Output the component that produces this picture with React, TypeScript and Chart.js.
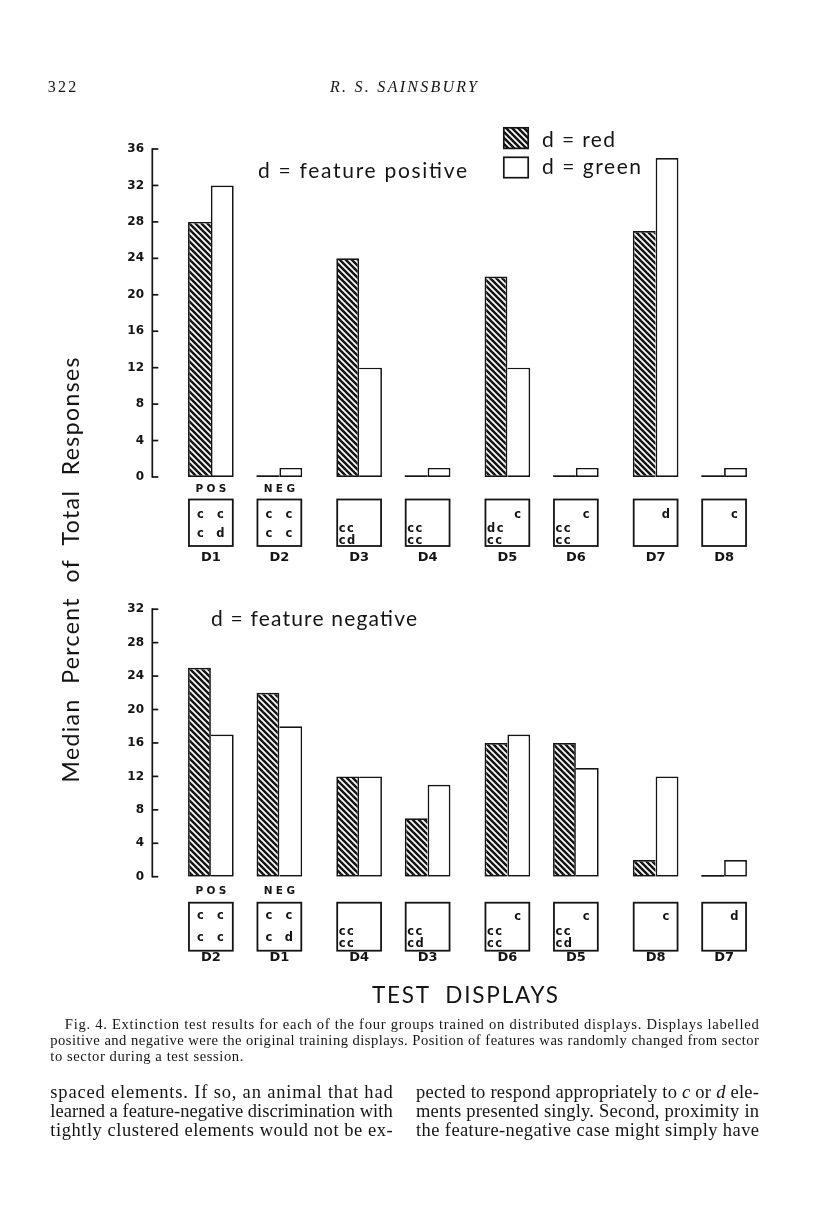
import React, { useEffect, useRef } from "react";
import { Chart, registerables } from "chart.js";

Chart.register(...registerables);

// ---------- data ----------
const seriesLabels = ["d = red", "d = green"];
const trainingLabels = ["POS", "NEG"];
const yStep = 4;

const topDisplays = ["D1", "D2", "D3", "D4", "D5", "D6", "D7", "D8"];
const topRed = [28, 0, 24, 0, 22, 0, 27, 0];
const topGreen = [32, 1, 12, 1, 12, 1, 35, 1];
const topYMax = 36;
const topTitle = "d = feature positive";

const bottomDisplays = ["D2", "D1", "D4", "D3", "D6", "D5", "D8", "D7"];
const bottomRed = [25, 22, 12, 7, 16, 16, 2, 0];
const bottomGreen = [17, 18, 12, 11, 17, 13, 12, 2];
const bottomYMax = 32;
const bottomTitle = "d = feature negative";

type Disp = { grid?: string[]; cluster?: string[]; corner?: string };
const topContents: Disp[] = [
  { grid: ["c", "c", "c", "d"] },
  { grid: ["c", "c", "c", "c"] },
  { cluster: ["cc", "cd"] },
  { cluster: ["cc", "cc"] },
  { corner: "c", cluster: ["dc", "cc"] },
  { corner: "c", cluster: ["cc", "cc"] },
  { corner: "d" },
  { corner: "c" },
];
const bottomContents: Disp[] = [
  { grid: ["c", "c", "c", "c"] },
  { grid: ["c", "c", "c", "d"] },
  { cluster: ["cc", "cc"] },
  { cluster: ["cc", "cd"] },
  { corner: "c", cluster: ["cc", "cc"] },
  { corner: "c", cluster: ["cc", "cd"] },
  { corner: "c" },
  { corner: "d" },
];

const yAxisTitle = "Median  Percent  of  Total  Responses";
const xAxisTitle = "TEST  DISPLAYS";

// ---------- styling ----------
const INK = "#141414";
const BW = 1.7;

function makeHatch(): CanvasPattern | string {
  const s = 6;
  const c = document.createElement("canvas");
  c.width = s;
  c.height = s;
  const g = c.getContext("2d");
  if (!g) return INK;
  g.fillStyle = "#ffffff";
  g.fillRect(0, 0, s, s);
  g.strokeStyle = INK;
  g.lineWidth = 2.5;
  for (const k of [-s, 0, s]) {
    g.beginPath();
    g.moveTo(k - 1, -1);
    g.lineTo(k + s + 1, s + 1);
    g.stroke();
  }
  return g.createPattern(c, "repeat") || INK;
}

function buildDatasets(red: number[], green: number[], hatch: any) {
  const pick = (arr: number[], slot: number) => arr.filter((_, i) => i % 2 === slot);
  const ds: any[] = [];
  [0, 1].forEach((slot) => {
    const r = pick(red, slot);
    const g = pick(green, slot);
    ds.push({
      label: seriesLabels[0],
      data: r,
      backgroundColor: hatch,
      borderColor: INK,
      borderSkipped: false,
      borderWidth: (c: any) => ({
        top: BW,
        bottom: BW,
        left: BW,
        right: r[c.dataIndex] >= g[c.dataIndex] ? BW : 0,
      }),
    });
    ds.push({
      label: seriesLabels[1],
      data: g,
      backgroundColor: "#ffffff",
      borderColor: INK,
      borderSkipped: false,
      borderWidth: (c: any) => ({
        top: BW,
        bottom: BW,
        right: BW,
        left: r[c.dataIndex] >= g[c.dataIndex] && r[c.dataIndex] > 0 ? 0 : BW,
      }),
    });
    if (slot === 0) ds.push({ label: "", data: r.map(() => null) });
  });
  return ds;
}

function spacedText(ctx: CanvasRenderingContext2D, text: string, x: number, y: number, gap: number, align: "center" | "left") {
  const chars = Array.from(text);
  const widths = chars.map((ch) => ctx.measureText(ch).width);
  const total = widths.reduce((a, b) => a + b, 0) + gap * (chars.length - 1);
  let cx = align === "center" ? x - total / 2 : x;
  ctx.textAlign = "left";
  chars.forEach((ch, i) => {
    ctx.fillText(ch, cx, y);
    cx += widths[i] + gap;
  });
}

type PanelCfg = {
  displays: string[];
  contents: Disp[];
  red: number[];
  green: number[];
  boxTop: number;
  boxH: number;
  gridRows: number[];
  clusterRows: number[];
  cornerRow: number;
  trainY: number;
  labelY: number;
};

function panelPlugin(cfg: PanelCfg) {
  return {
    id: "panelExtras",
    afterDatasetsDraw(chart: any) {
      const ctx: CanvasRenderingContext2D = chart.ctx;
      const y = chart.scales.y;
      const area = chart.chartArea;
      const base = y.getPixelForValue(0);
      const topPx = y.getPixelForValue(y.max);
      const ax = area.left - 18.7;
      ctx.save();
      ctx.strokeStyle = INK;
      ctx.fillStyle = INK;
      ctx.lineWidth = 1.7;
      ctx.lineCap = "butt";
      // axis with inward ticks
      ctx.beginPath();
      ctx.moveTo(ax, topPx - 0.85);
      ctx.lineTo(ax, base + 0.85);
      ctx.stroke();
      y.ticks.forEach((t: any) => {
        const py = y.getPixelForValue(t.value);
        ctx.beginPath();
        ctx.moveTo(ax, py);
        ctx.lineTo(ax + 6, py);
        ctx.stroke();
      });
      // zero-valued bars drawn as a base line
      [0, 1, 3, 4].forEach((di) => {
        const meta = chart.getDatasetMeta(di);
        const data = chart.data.datasets[di].data;
        meta.data.forEach((el: any, idx: number) => {
          if (data[idx] === 0) {
            const p = el.getProps(["x", "width", "base"], true);
            ctx.beginPath();
            ctx.moveTo(p.x - p.width / 2, p.base - BW / 2);
            ctx.lineTo(p.x + p.width / 2, p.base - BW / 2);
            ctx.stroke();
          }
        });
      });
      // display boxes and labels
      cfg.displays.forEach((name, i) => {
        const pair = i >> 1;
        const slot = i & 1;
        const rEl = chart.getDatasetMeta(slot * 3).data[pair].getProps(["x", "width"], true);
        const gEl = chart.getDatasetMeta(slot * 3 + 1).data[pair].getProps(["x", "width"], true);
        const left = rEl.x - rEl.width / 2;
        const right = gEl.x + gEl.width / 2;
        const w = right - left;
        const cx = (left + right) / 2;
        const top = base + cfg.boxTop;
        ctx.lineWidth = 1.8;
        ctx.strokeRect(left + 0.9, top, w - 1.8, cfg.boxH);
        const content = cfg.contents[i];
        ctx.textBaseline = "alphabetic";
        ctx.font = "bold 11.5px 'DejaVu Sans'";
        if (content.grid) {
          const cols = [left + w * 0.27, left + w * 0.71];
          content.grid.forEach((ch, k) => {
            ctx.textAlign = "center";
            ctx.fillText(ch, cols[k % 2], top + cfg.gridRows[k >> 1]);
          });
        }
        if (content.cluster) {
          content.cluster.forEach((line, k) => {
            spacedText(ctx, line, left + 2.5, top + cfg.clusterRows[k], 1.5, "left");
          });
        }
        if (content.corner) {
          ctx.textAlign = "center";
          ctx.fillText(content.corner, right - 12.5, top + cfg.cornerRow);
        }
        ctx.font = "bold 13px 'DejaVu Sans'";
        ctx.textAlign = "center";
        ctx.fillText(name, cx, base + cfg.labelY);
        if (i < trainingLabels.length) {
          ctx.font = "bold 10.5px 'DejaVu Sans'";
          spacedText(ctx, trainingLabels[i], cx, base + cfg.trainY, 3.4, "center");
        }
      });
      ctx.restore();
    },
  };
}

function makeOptions(yMax: number, padding: any) {
  return {
    responsive: false,
    animation: false,
    events: [],
    layout: { padding },
    plugins: { legend: { display: false }, tooltip: { enabled: false } },
    datasets: { bar: { barPercentage: 1, categoryPercentage: 0.77 } },
    scales: {
      x: { display: false, offset: true },
      y: {
        min: 0,
        max: yMax,
        ticks: {
          stepSize: yStep,
          padding: 27,
          color: INK,
          font: { family: "'DejaVu Sans'", size: 12, weight: "bold" },
        },
        grid: { display: false, drawTicks: false },
        border: { display: false },
        afterFit: (s: any) => {
          s.width = 171;
        },
      },
    },
  };
}

function Panel(props: { cfg: PanelCfg; yMax: number; top: number; height: number; padding: any }) {
  const ref = useRef<HTMLCanvasElement | null>(null);
  useEffect(() => {
    if (!ref.current) return;
    const hatch = makeHatch();
    const { cfg } = props;
    const pairLabels = cfg.displays.filter((_, i) => i % 2 === 0).map((d, p) => d + " / " + cfg.displays[p * 2 + 1]);
    const chart = new Chart(ref.current, {
      type: "bar",
      data: { labels: pairLabels, datasets: buildDatasets(cfg.red, cfg.green, hatch) },
      options: makeOptions(props.yMax, props.padding) as any,
      plugins: [panelPlugin(cfg) as any],
    });
    return () => chart.destroy();
  }, []);
  return (
    <canvas
      ref={ref}
      width={816}
      height={props.height}
      style={{ position: "absolute", left: 0, top: props.top, width: 816, height: props.height }}
    />
  );
}

const sans = "Lato, 'Open Sans', sans-serif";
const serif = "'Liberation Serif', 'DejaVu Serif', serif";

export default function App() {
  const topCfg: PanelCfg = {
    displays: topDisplays,
    contents: topContents,
    red: topRed,
    green: topGreen,
    boxTop: 22.5,
    boxH: 46.5,
    gridRows: [18, 37],
    clusterRows: [32, 44],
    cornerRow: 18,
    trainY: 14.7,
    labelY: 83.5,
  };
  const bottomCfg: PanelCfg = {
    displays: bottomDisplays,
    contents: bottomContents,
    red: bottomRed,
    green: bottomGreen,
    boxTop: 26,
    boxH: 48,
    gridRows: [16, 38],
    clusterRows: [32.5, 44],
    cornerRow: 17,
    trainY: 17.3,
    labelY: 84,
  };
  return (
    <div style={{ position: "absolute", left: 0, top: 0, width: 816, height: 1207, background: "#ffffff", overflow: "hidden" }}>
      <Panel cfg={topCfg} yMax={topYMax} top={100} height={475} padding={{ left: 0, right: 52, top: 49, bottom: 98 }} />
      <Panel cfg={bottomCfg} yMax={bottomYMax} top={575} height={430} padding={{ left: 0, right: 52, top: 11.7, bottom: 128.3 }} />
      <svg width={816} height={1207} style={{ position: "absolute", left: 0, top: 0, pointerEvents: "none" }}>
        <defs>
          <pattern id="hatch" width="6" height="6" patternUnits="userSpaceOnUse">
            <rect width="6" height="6" fill="#ffffff" />
            <path d="M-7,-1 L1,7 M-1,-1 L7,7 M5,-1 L13,7" stroke={INK} strokeWidth="2.5" />
          </pattern>
        </defs>
        {/* running head */}
        <text x={47.7} y={91.5} fontFamily={serif} fontSize={16} fill={INK} textLength={28.5}>322</text>
        <text x={330} y={91.5} fontFamily={serif} fontSize={16} fontStyle="italic" fill={INK} textLength={147}>R. S. SAINSBURY</text>

        {/* legend */}
        <rect x={503.8} y={127.8} width={24.4} height={20.6} fill="url(#hatch)" stroke={INK} strokeWidth={1.7} />
        <rect x={503.8} y={157.3} width={24.4} height={20.4} fill="#ffffff" stroke={INK} strokeWidth={1.7} />
        <text x={542} y={147.3} fontFamily={sans} fontSize={21} fill={INK} textLength={73}>{seriesLabels[0]}</text>
        <text x={542} y={173.5} fontFamily={sans} fontSize={21} fill={INK} textLength={99}>{seriesLabels[1]}</text>

        {/* panel titles */}
        <text x={258} y={178.3} fontFamily={sans} fontSize={21} fill={INK} textLength={209} style={{ whiteSpace: "pre" }}>{topTitle}</text>
        <text x={211} y={625.7} fontFamily={sans} fontSize={21} fill={INK} textLength={206} style={{ whiteSpace: "pre" }}>{bottomTitle}</text>

        {/* axis titles */}
        <text
          transform="translate(78.5,570) rotate(-90)"
          textAnchor="middle"
          fontFamily={sans}
          fontSize={23}
          fill={INK}
          textLength={425}
          style={{ whiteSpace: "pre" }}
        >
          {yAxisTitle}
        </text>
        <text x={372} y={1003} fontFamily={sans} fontSize={22.5} fill={INK} textLength={186} style={{ whiteSpace: "pre" }}>{xAxisTitle}</text>

        {/* caption */}
        <text x={64.8} y={1029} fontFamily={serif} fontSize={14.6} fill={INK} textLength={694}>
          Fig. 4. Extinction test results for each of the four groups trained on distributed displays. Displays labelled
        </text>
        <text x={50.3} y={1045} fontFamily={serif} fontSize={14.6} fill={INK} textLength={708.7}>
          positive and negative were the original training displays. Position of features was randomly changed from sector
        </text>
        <text x={50.3} y={1061} fontFamily={serif} fontSize={14.6} fill={INK} textLength={193}>
          to sector during a test session.
        </text>

        {/* body text */}
        <text x={50.3} y={1098} fontFamily={serif} fontSize={18.5} fill={INK} textLength={342.4}>spaced elements. If so, an animal that had</text>
        <text x={50.3} y={1117} fontFamily={serif} fontSize={18.5} fill={INK} textLength={342.4}>learned a feature-negative discrimination with</text>
        <text x={50.3} y={1136} fontFamily={serif} fontSize={18.5} fill={INK} textLength={342.4}>tightly clustered elements would not be ex-</text>
        <text x={416} y={1098} fontFamily={serif} fontSize={18.5} fill={INK} textLength={343}>
          pected to respond appropriately to <tspan fontStyle="italic">c</tspan> or <tspan fontStyle="italic">d</tspan> ele-
        </text>
        <text x={416} y={1117} fontFamily={serif} fontSize={18.5} fill={INK} textLength={343}>ments presented singly. Second, proximity in</text>
        <text x={416} y={1136} fontFamily={serif} fontSize={18.5} fill={INK} textLength={343}>the feature-negative case might simply have</text>
      </svg>
    </div>
  );
}
